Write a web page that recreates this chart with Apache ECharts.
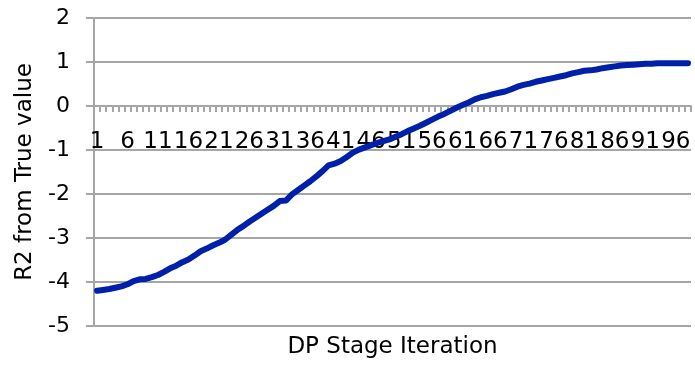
<!DOCTYPE html>
<html>
<head>
<meta charset="utf-8">
<script src="https://cdn.jsdelivr.net/npm/echarts@6/dist/echarts.min.js"></script>
<style>
html,body{margin:0;padding:0;background:#fff;}
#chart{width:695px;height:366px;}
</style>
</head>
<body>
<div id="chart"></div>
<script>
var categories = [
  "1","2","3","4","5","6","7","8","9","10",
  "11","12","13","14","15","16","17","18","19","20",
  "21","22","23","24","25","26","27","28","29","30",
  "31","32","33","34","35","36","37","38","39","40",
  "41","42","43","44","45","46","47","48","49","50",
  "51","52","53","54","55","56","57","58","59","60",
  "61","62","63","64","65","66","67","68","69","70",
  "71","72","73","74","75","76","77","78","79","80",
  "81","82","83","84","85","86","87","88","89","90",
  "91","92","93","94","95","96","97","98"
];
var r2Values = [
  -4.20,-4.18,-4.16,-4.13,-4.10,-4.05,-3.98,-3.94,-3.93,-3.89,
  -3.84,-3.77,-3.69,-3.63,-3.55,-3.49,-3.40,-3.30,-3.24,-3.17,
  -3.11,-3.04,-2.93,-2.82,-2.73,-2.63,-2.54,-2.45,-2.36,-2.27,
  -2.16,-2.15,-2.01,-1.91,-1.81,-1.71,-1.60,-1.48,-1.35,-1.31,
  -1.25,-1.16,-1.06,-0.99,-0.94,-0.89,-0.84,-0.80,-0.76,-0.70,
  -0.64,-0.57,-0.51,-0.45,-0.38,-0.31,-0.24,-0.18,-0.11,-0.04,
   0.02, 0.08, 0.15, 0.20, 0.23, 0.27, 0.30, 0.33, 0.38, 0.44,
   0.48, 0.51, 0.55, 0.58, 0.61, 0.64, 0.67, 0.70, 0.74, 0.77,
   0.80, 0.81, 0.83, 0.86, 0.88, 0.90, 0.92, 0.93, 0.94, 0.95,
   0.96, 0.96, 0.97, 0.97, 0.97, 0.97, 0.97, 0.97
];
var yMin = -5, yMax = 2, yStep = 1;
var xTitle = "DP Stage Iteration";
var yTitle = "R2 from True value";

var gray = "#a6a6a6";
var font = "'DejaVu Sans', sans-serif";
var gridTop = 18, gridBottom = 40, H = 366;
var plotH = H - gridTop - gridBottom;
// distance from plot bottom (yMin) up to the zero line, derived from the axis range
var zeroOffset = plotH * (0 - yMin) / (yMax - yMin);

var chart = echarts.init(document.getElementById('chart'), null, {renderer: 'canvas'});
chart.setOption({
  animation: false,
  backgroundColor: '#ffffff',
  grid: {left: 94, right: 4, top: gridTop, bottom: gridBottom, containLabel: false, outerBoundsMode: 'none'},
  xAxis: {
    type: 'category',
    data: categories,
    boundaryGap: true,
    position: 'bottom',
    offset: -zeroOffset,
    name: xTitle,
    nameLocation: 'middle',
    nameGap: 230,
    nameTextStyle: {fontFamily: font, fontSize: 23, color: '#000'},
    axisLine: {show: true, onZero: false, lineStyle: {color: gray, width: 2}},
    axisTick: {show: true, interval: 0, length: 6, inside: false, lineStyle: {color: gray, width: 2}},
    axisLabel: {interval: 4, margin: 25, fontFamily: font, fontSize: 23, color: '#000', hideOverlap: false},
    splitLine: {show: false}
  },
  yAxis: {
    type: 'value',
    min: yMin, max: yMax, interval: yStep,
    name: yTitle,
    nameLocation: 'middle',
    nameGap: 57,
    nameTextStyle: {fontFamily: font, fontSize: 23, color: '#000'},
    axisLine: {show: true, lineStyle: {color: gray, width: 2}},
    axisTick: {show: true, length: 8, lineStyle: {color: gray, width: 2}},
    axisLabel: {margin: 24, fontFamily: font, fontSize: 22, color: '#000'},
    splitLine: {show: true, lineStyle: {color: gray, width: 2}}
  },
  series: [{
    type: 'line',
    data: r2Values,
    symbol: 'none',
    smooth: false,
    lineStyle: {color: '#0020aa', width: 6, cap: 'round', join: 'round'},
    itemStyle: {color: '#0020aa'}
  }]
});
</script>
</body>
</html>
